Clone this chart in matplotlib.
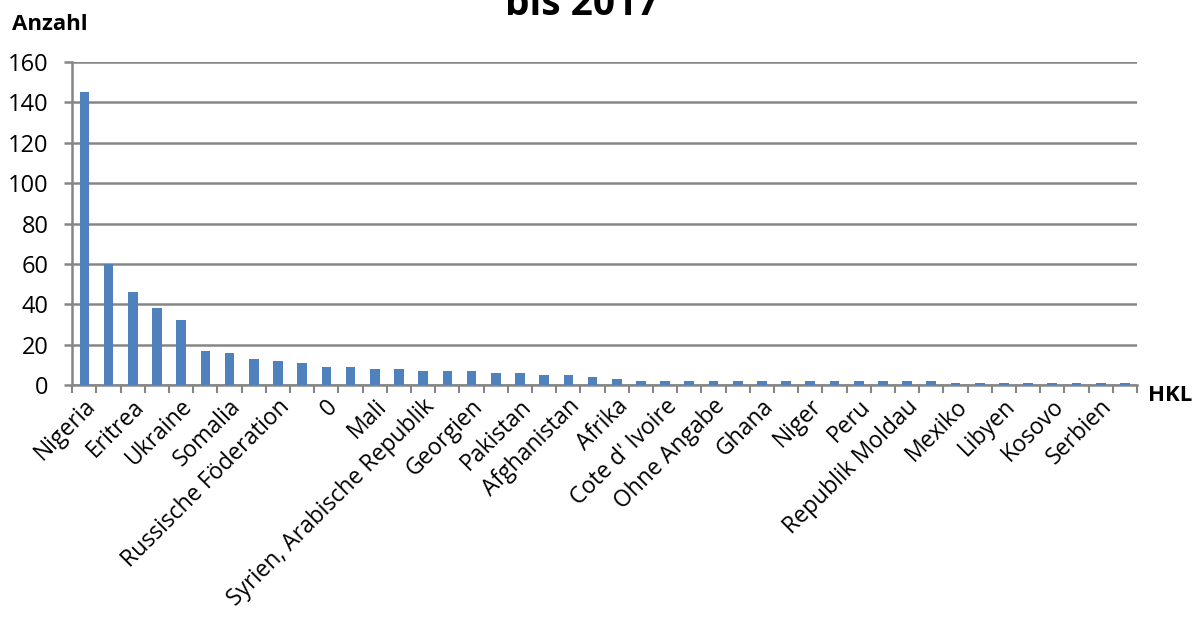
import matplotlib.pyplot as plt
import matplotlib.transforms as mtransforms
import numpy as np

# Anzahl je Herkunftsland (HKL), absteigend sortiert
werte = [145, 60, 46, 38, 32, 17, 16, 13, 12, 11, 9, 9, 8, 8, 7, 7, 7, 6, 6, 5, 5, 4,
         3, 2, 2, 2, 2, 2, 2, 2, 2, 2, 2, 2, 2, 2, 1, 1, 1, 1, 1, 1, 1, 1]

# nur jede zweite Kategorie ist beschriftet
laender = ['Nigeria', 'Eritrea', 'Ukraine', 'Somalia', 'Russische Föderation', '0',
           'Mali', 'Syrien, Arabische Republik', 'Georgien', 'Pakistan', 'Afghanistan',
           'Afrika', "Cote d' Ivoire", 'Ohne Angabe', 'Ghana', 'Niger', 'Peru',
           'Republik Moldau', 'Mexiko', 'Libyen', 'Kosovo', 'Serbien']

y_ticks = [0, 20, 40, 60, 80, 100, 120, 140, 160]

BLAU = '#4f81bd'
GRAU = '#868686'

plt.rcParams['font.family'] = ['Open Sans', 'DejaVu Sans']

fig = plt.figure(figsize=(12.01, 6.21), dpi=100)
ax = fig.add_axes([0.0602, 0.380, 0.8865, 0.520])

x = np.arange(len(werte))
ax.bar(x, werte, width=0.4, color=BLAU, zorder=3)

ax.set_xlim(-0.5, len(werte) - 0.5)
ax.set_ylim(0, 160)
ax.set_yticks(y_ticks)
ax.yaxis.grid(True, color=GRAU, linewidth=1.8, zorder=0)
ax.tick_params(axis='y', length=6, width=1.8, color=GRAU, labelsize=17, pad=11)

# Beschriftung an jeder zweiten Säule, Teilstriche an den Kategoriegrenzen
ax.set_xticks(x[::2])
ax.set_xticklabels(laender, rotation=45, ha='right', va='center',
                   rotation_mode='anchor', fontsize=16.5)
ax.tick_params(axis='x', which='major', length=0, pad=13)
versatz = mtransforms.ScaledTranslation(8 / 100, 0, fig.dpi_scale_trans)
for lbl in ax.get_xticklabels():
    lbl.set_transform(lbl.get_transform() + versatz)
ax.set_xticks(np.arange(-0.5, len(werte), 1.0), minor=True)
ax.tick_params(axis='x', which='minor', length=6, width=1.5, color=GRAU)

for s in ['top', 'right']:
    ax.spines[s].set_visible(False)
for s in ['left', 'bottom']:
    ax.spines[s].set_color(GRAU)
    ax.spines[s].set_linewidth(1.8)

fig.text(0.01, 1 - 30 / 621, 'Anzahl', fontsize=16, fontweight='bold', va='baseline')
fig.text(1148 / 1201, 1 - 401 / 621, 'HKL', fontsize=16, fontweight='bold', va='baseline')
fig.text(0.485, 1 - 15 / 621, 'bis 2017', fontsize=28, fontweight='bold',
         ha='center', va='baseline')

fig.savefig('out.png', dpi=100)
